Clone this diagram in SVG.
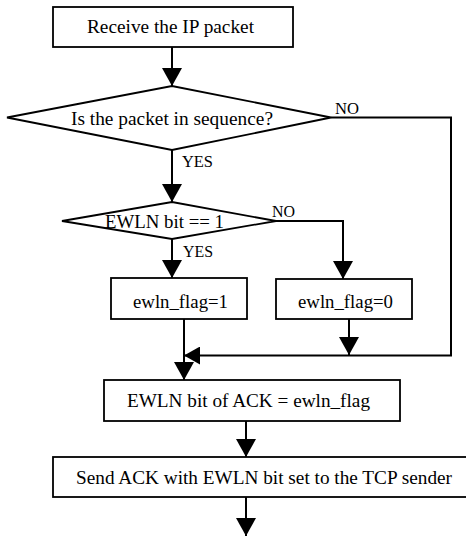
<svg xmlns="http://www.w3.org/2000/svg" width="466" height="536" viewBox="0 0 466 536">
<defs>
<style>
.box{fill:#fff;stroke:#000;stroke-width:1.8}
.t{font-family:'Liberation Serif','Times New Roman',serif;font-size:18px;fill:#000}
.lbl{font-family:'Liberation Serif','Times New Roman',serif;font-size:16px;fill:#000}
.c{fill:none;stroke:#000;stroke-width:2}
</style>
<marker id="ah" viewBox="0 0 18 20" markerWidth="18" markerHeight="20" markerUnits="userSpaceOnUse" refX="18" refY="10" orient="auto">
<path d="M0,0 L18,10 L0,20 z" fill="#000"/>
</marker>
<marker id="ahs" viewBox="0 0 16 18" markerWidth="16" markerHeight="18" markerUnits="userSpaceOnUse" refX="16" refY="9" orient="auto">
<path d="M0,0 L16,9 L0,18 z" fill="#000"/>
</marker>
</defs>
<rect width="466" height="536" fill="#fff"/>
<g id="connectors">
<path class="c" d="M172,47 V86" marker-end="url(#ah)"/>
<path class="c" d="M172,150 V202" marker-end="url(#ah)"/>
<path class="c" d="M331,117.5 H451 V355.5 H184" marker-end="url(#ahs)"/>
<path class="c" d="M172,239 V278" marker-end="url(#ah)"/>
<path class="c" d="M276,221 H343 V279" marker-end="url(#ah)"/>
<path class="c" d="M184,319 V380" marker-end="url(#ah)"/>
<path class="c" d="M349,319 V355" marker-end="url(#ah)"/>
<path class="c" d="M246,421 V457" marker-end="url(#ah)"/>
<path class="c" d="M246,497 V536" marker-end="url(#ah)"/>
<g font-family="Liberation Serif, Times New Roman, serif">
<text class="lbl" x="335" y="114" textLength="24" lengthAdjust="spacingAndGlyphs">NO</text>
<text class="lbl" x="182" y="167" textLength="31" lengthAdjust="spacingAndGlyphs">YES</text>
<text class="lbl" x="272" y="217" textLength="23" lengthAdjust="spacingAndGlyphs">NO</text>
<text class="lbl" x="183" y="257" textLength="30" lengthAdjust="spacingAndGlyphs">YES</text>
</g>
</g>
<g id="receive" font-family="Liberation Serif, Times New Roman, serif">
<rect class="box" x="53" y="7" width="240" height="40"/>
<text class="t" x="87" y="33" textLength="167" lengthAdjust="spacingAndGlyphs">Receive the IP packet</text>
</g>
<g id="in-sequence" font-family="Liberation Serif, Times New Roman, serif">
<polygon class="box" points="7,117.5 172,86 331,117.5 172,150"/>
<text class="t" x="71" y="125" textLength="202" lengthAdjust="spacingAndGlyphs">Is the packet in sequence?</text>
</g>
<g id="ewln-bit" font-family="Liberation Serif, Times New Roman, serif">
<polygon class="box" points="62,221 172,202 276,221 172,239"/>
<text class="t" x="105" y="228" textLength="119" lengthAdjust="spacingAndGlyphs">EWLN bit == 1</text>
</g>
<g id="flag1" font-family="Liberation Serif, Times New Roman, serif">
<rect class="box" x="111" y="278" width="136" height="41"/>
<text class="t" x="133" y="308" textLength="95" lengthAdjust="spacingAndGlyphs">ewln_flag=1</text>
</g>
<g id="flag0" font-family="Liberation Serif, Times New Roman, serif">
<rect class="box" x="276" y="279" width="136" height="40"/>
<text class="t" x="298" y="308" textLength="95" lengthAdjust="spacingAndGlyphs">ewln_flag=0</text>
</g>
<g id="ack-bit" font-family="Liberation Serif, Times New Roman, serif">
<rect class="box" x="104" y="380" width="296" height="41"/>
<text class="t" x="127" y="407" textLength="243" lengthAdjust="spacingAndGlyphs">EWLN bit of ACK = ewln_flag</text>
</g>
<g id="send-ack" font-family="Liberation Serif, Times New Roman, serif">
<rect class="box" x="53" y="457" width="416" height="40"/>
<text class="t" x="76" y="484" textLength="376" lengthAdjust="spacingAndGlyphs">Send ACK with EWLN bit set to the TCP sender</text>
</g>
</svg>
